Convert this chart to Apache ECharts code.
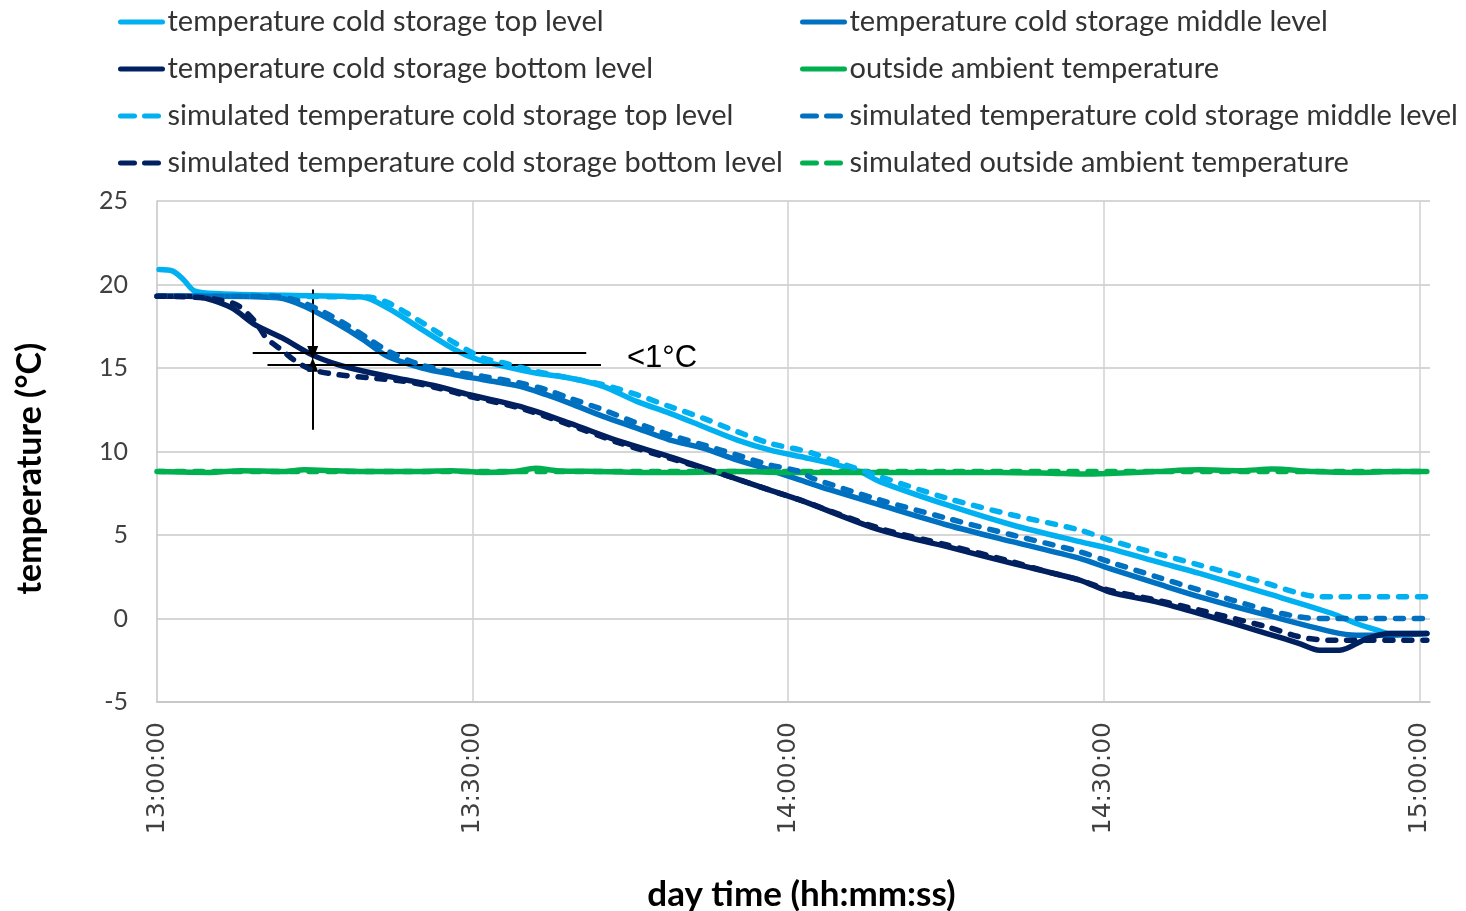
<!DOCTYPE html>
<html>
<head>
<meta charset="utf-8">
<script src="https://cdn.jsdelivr.net/npm/echarts@6/dist/echarts.min.js"></script>
<style>
  html, body { margin: 0; padding: 0; background: #fff; }
  #chart { width: 1466px; height: 911px; }
</style>
</head>
<body>
<div id="chart"></div>
<script>
// time in minutes after 13:00:00, temperatures in °C
var topTime = [0.2, 1.5, 2.5, 3.6, 6, 12, 19.5, 21.9, 25.2, 28.3, 30.5, 33, 36, 39.2, 42.4, 45.6, 48.7, 51.9, 55.1, 58.2, 61.1, 64, 66.8, 68.7, 75.1, 81.3, 87.7, 90.5, 95, 99.1, 105.5, 111.7, 114, 116, 117.2, 120.7];
var topTemp = [20.9, 20.8, 20.3, 19.6, 19.45, 19.35, 19.25, 18.6, 17.3, 16.1, 15.5, 15.1, 14.7, 14.4, 13.9, 13.0, 12.3, 11.5, 10.7, 10.1, 9.7, 9.3, 8.8, 8.2, 6.8, 5.6, 4.6, 4.2, 3.4, 2.7, 1.5, 0.3, -0.3, -0.7, -0.9, -0.9];

var midTime = [0.2, 6, 11.5, 14, 17, 19.6, 21.9, 25.2, 28.3, 31, 34.5, 37, 39.2, 42.4, 45.6, 48.7, 51.9, 55.1, 58.2, 61.1, 64, 68.7, 75.1, 81.3, 87.7, 90.5, 95, 99.1, 105.5, 111.7, 114, 117, 120.7];
var midTemp = [19.3, 19.3, 19.2, 18.7, 17.7, 16.7, 15.7, 15.0, 14.6, 14.3, 13.9, 13.4, 12.9, 12.1, 11.4, 10.7, 10.2, 9.5, 8.9, 8.3, 7.7, 6.8, 5.6, 4.6, 3.6, 3.0, 2.1, 1.3, 0.2, -0.8, -1.0, -1.0, -0.9];

var botTime = [0.2, 3, 4.5, 7.1, 9.3, 11.9, 14.7, 17.2, 20.4, 23.6, 26.7, 29.7, 34.5, 39.2, 44, 48.7, 53.5, 58.2, 61.1, 68.7, 75.1, 81.3, 87.7, 90.5, 95, 99.1, 105.5, 108.6, 110.5, 112.4, 115, 117.2, 120.7];
var botTemp = [19.3, 19.3, 19.2, 18.6, 17.6, 16.8, 15.8, 15.2, 14.7, 14.3, 13.9, 13.4, 12.7, 11.7, 10.6, 9.7, 8.7, 7.7, 7.1, 5.3, 4.3, 3.3, 2.3, 1.6, 1.0, 0.3, -0.9, -1.5, -1.9, -1.9, -1.2, -0.9, -0.9];

var ambTime = [0.2, 5, 8, 12, 14, 17, 20, 25, 28, 31, 34, 36, 38, 42, 46, 50, 55, 60, 65, 70, 75, 80, 85, 88, 91, 95, 99, 103, 106, 110, 114, 118, 120.7];
var ambTemp = [8.8, 8.75, 8.85, 8.8, 8.9, 8.85, 8.8, 8.8, 8.85, 8.75, 8.8, 9.0, 8.85, 8.8, 8.75, 8.75, 8.8, 8.75, 8.75, 8.75, 8.75, 8.75, 8.7, 8.65, 8.7, 8.8, 8.9, 8.85, 8.95, 8.8, 8.75, 8.8, 8.8];

var simTopTime = [0, 20, 22, 25, 28.3, 31, 33, 36, 39.2, 42.4, 45.6, 48.7, 51.9, 55.1, 58.2, 61.1, 62.3, 65, 68.7, 75.1, 81.3, 87.7, 90.5, 95, 99.1, 105.5, 108.6, 110.5, 120.7];
var simTopTemp = [19.3, 19.25, 18.9, 17.8, 16.5, 15.6, 15.3, 14.8, 14.4, 14.0, 13.4, 12.7, 12.0, 11.2, 10.5, 10.1, 9.9, 9.3, 8.5, 7.2, 6.2, 5.3, 4.7, 3.9, 3.2, 2.1, 1.5, 1.3, 1.3];

var simMidTime = [0, 11, 13.5, 16, 18, 20, 22, 25, 28, 31, 34.5, 37, 39.2, 42.4, 45.6, 48.7, 51.9, 55.1, 58.2, 61.1, 62.3, 68.7, 75.1, 81.3, 87.7, 90.5, 95, 99.1, 105.5, 108.6, 110.5, 120.7];
var simMidTemp = [19.3, 19.3, 19.0, 18.3, 17.6, 16.8, 16.0, 15.2, 14.8, 14.5, 14.1, 13.7, 13.2, 12.5, 11.7, 11.0, 10.4, 9.8, 9.2, 8.8, 8.4, 7.1, 6.0, 5.0, 4.0, 3.4, 2.5, 1.7, 0.5, 0.1, 0.0, 0.0];

var simBotTime = [0, 4.5, 7.5, 9.3, 10.4, 12, 13.2, 14.7, 17.2, 20.4, 23.6, 26.7, 29.7, 34.5, 39.2, 44, 48.7, 53.5, 58.2, 61.1, 68.7, 75.1, 81.3, 84.6, 87.7, 90.5, 95, 99.1, 105.5, 108.6, 111.4, 120.7];
var simBotTemp = [19.3, 19.2, 18.8, 17.8, 16.8, 16.0, 15.4, 14.9, 14.6, 14.4, 14.2, 13.8, 13.3, 12.6, 11.6, 10.5, 9.6, 8.7, 7.7, 7.1, 5.4, 4.4, 3.4, 2.8, 2.3, 1.7, 1.1, 0.5, -0.5, -1.1, -1.3, -1.3];

var simAmbTime = [0, 60, 120.7];
var simAmbTemp = [8.8, 8.8, 8.8];

var yTicks = [-5, 0, 5, 10, 15, 20, 25];

// "<1°C" marker: two horizontal levels and the arrow line between them
var annoLevels = [15.9, 15.2];
var annoLevelStart = [9.1, 10.5];
var annoLevelEnd = [40.8, 42.2];
var annoArrowTime = 14.8;
var annoArrowFrom = [19.7, 11.3];

function pairs(xs, ys) {
    return xs.map(function (x, i) { return [x, ys[i]]; });
}

function clock(m) {
    var h = 13 + Math.floor(m / 60);
    var mm = Math.round(m % 60);
    return h + ':' + (mm < 10 ? '0' : '') + mm + ':00';
}

var lightBlue = '#00b0f0', midBlue = '#0070c0', navy = '#002060', green = '#00b050';
var dash = [8, 11];

function mkSeries(name, color, xs, ys, dashed, z) {
    return {
        name: name,
        type: 'line',
        data: pairs(xs, ys),
        showSymbol: false,
        symbol: 'none',
        smooth: 0.3,
        z: z,
        lineStyle: { color: color, width: 5.5, type: dashed ? dash : 'solid', cap: 'round', join: 'round' },
        itemStyle: { color: color },
        emphasis: { disabled: true }
    };
}

var series = [
    mkSeries('temperature cold storage top level', lightBlue, topTime, topTemp, false, 2),
    mkSeries('temperature cold storage middle level', midBlue, midTime, midTemp, false, 3),
    mkSeries('temperature cold storage bottom level', navy, botTime, botTemp, false, 4),
    mkSeries('simulated outside ambient temperature', green, simAmbTime, simAmbTemp, true, 5),
    mkSeries('outside ambient temperature', green, ambTime, ambTemp, false, 6),
    mkSeries('simulated temperature cold storage top level', lightBlue, simTopTime, simTopTemp, true, 7),
    mkSeries('simulated temperature cold storage middle level', midBlue, simMidTime, simMidTemp, true, 8),
    mkSeries('simulated temperature cold storage bottom level', navy, simBotTime, simBotTemp, true, 9)
];

// annotation lines go on their own (empty) series, drawn on top
series.push({
    name: 'annotation',
    type: 'line',
    data: [],
    z: 20,
    markLine: {
        silent: true,
        animation: false,
        symbol: ['none', 'none'],
        label: { show: false },
        lineStyle: { color: '#000', width: 2, type: 'solid' },
        emphasis: { disabled: true },
        data: [
            [{ coord: [annoLevelStart[0], annoLevels[0]] }, { coord: [annoLevelEnd[0], annoLevels[0]] }],
            [{ coord: [annoLevelStart[1], annoLevels[1]] }, { coord: [annoLevelEnd[1], annoLevels[1]] }],
            [{ coord: [annoArrowTime, annoArrowFrom[0]], symbol: 'none' },
             { coord: [annoArrowTime, annoLevels[0]], symbol: 'triangle', symbolSize: [11, 14], symbolRotate: 180 }],
            [{ coord: [annoArrowTime, annoArrowFrom[1]], symbol: 'none' },
             { coord: [annoArrowTime, annoLevels[1]], symbol: 'triangle', symbolSize: [11, 14], symbolRotate: 0 }]
        ]
    },
    markPoint: {
        silent: true,
        animation: false,
        symbol: 'circle',
        symbolSize: 0,
        label: {
            show: true,
            position: 'inside',
            formatter: '<1°C',
            color: '#000',
            fontFamily: 'Liberation Sans',
            fontSize: 31
        },
        data: [{ coord: [48.0, 15.55] }]
    }
});

var legendText = { fontFamily: 'Lato', fontSize: 29, color: '#333', lineHeight: 30 };
function legendItem(name, dashed) {
    return dashed ? { name: name, lineStyle: { type: [14, 10], cap: 'round' } } : { name: name };
}
function legendBlock(left, names) {
    return {
        orient: 'vertical',
        left: left,
        top: 2,
        itemWidth: 42,
        itemHeight: 14,
        itemGap: 17,
        selectedMode: false,
        itemStyle: { opacity: 0 },
        lineStyle: { width: 5, cap: 'round' },
        textStyle: legendText,
        data: names
    };
}

var option = {
    animation: false,
    backgroundColor: '#fff',
    grid: { left: 157, top: 201, right: 36, bottom: 209, outerBoundsMode: 'none' },
    legend: [
        legendBlock(113, [
            legendItem('temperature cold storage top level'),
            legendItem('temperature cold storage bottom level'),
            legendItem('simulated temperature cold storage top level', true),
            legendItem('simulated temperature cold storage bottom level', true)
        ]),
        legendBlock(795, [
            legendItem('temperature cold storage middle level'),
            legendItem('outside ambient temperature'),
            legendItem('simulated temperature cold storage middle level', true),
            legendItem('simulated outside ambient temperature', true)
        ])
    ],
    xAxis: {
        type: 'value',
        min: 0,
        max: 121,
        interval: 30,
        name: 'day time (hh:mm:ss)',
        nameLocation: 'middle',
        nameGap: 175,
        nameTextStyle: { fontFamily: 'Lato', fontWeight: 'bold', fontSize: 35, color: '#000', padding: [0, 0, 0, 16] },
        axisLine: { show: true, onZero: false, lineStyle: { color: '#c4c4c4', width: 1.5 } },
        axisTick: { show: false },
        axisLabel: {
            rotate: 90,
            margin: 20,
            showMaxLabel: false,
            fontFamily: 'DejaVu Sans',
            fontSize: 25,
            color: '#404040',
            formatter: function (v) { return v % 30 === 0 ? clock(v) : ''; }
        },
        splitLine: { show: true, showMinLine: false, showMaxLine: false, lineStyle: { color: '#d0d0d0', width: 1.5 } }
    },
    yAxis: {
        type: 'value',
        min: yTicks[0],
        max: yTicks[yTicks.length - 1],
        interval: 5,
        name: 'temperature (°C)',
        nameLocation: 'middle',
        nameGap: 110,
        nameRotate: 90,
        nameTextStyle: { fontFamily: 'Lato', fontWeight: 'bold', fontSize: 34, color: '#000', padding: [0, 34, 0, 0] },
        axisLine: { show: true, lineStyle: { color: '#c4c4c4', width: 1.5 } },
        axisTick: { show: false },
        axisLabel: { margin: 29, fontFamily: 'Lato', fontSize: 25, color: '#404040' },
        splitLine: { show: true, lineStyle: { color: '#c8c8c8', width: 1.5 } }
    },
    series: series
};

var myChart = echarts.init(document.getElementById('chart'));
myChart.setOption(option);
</script>
</body>
</html>
